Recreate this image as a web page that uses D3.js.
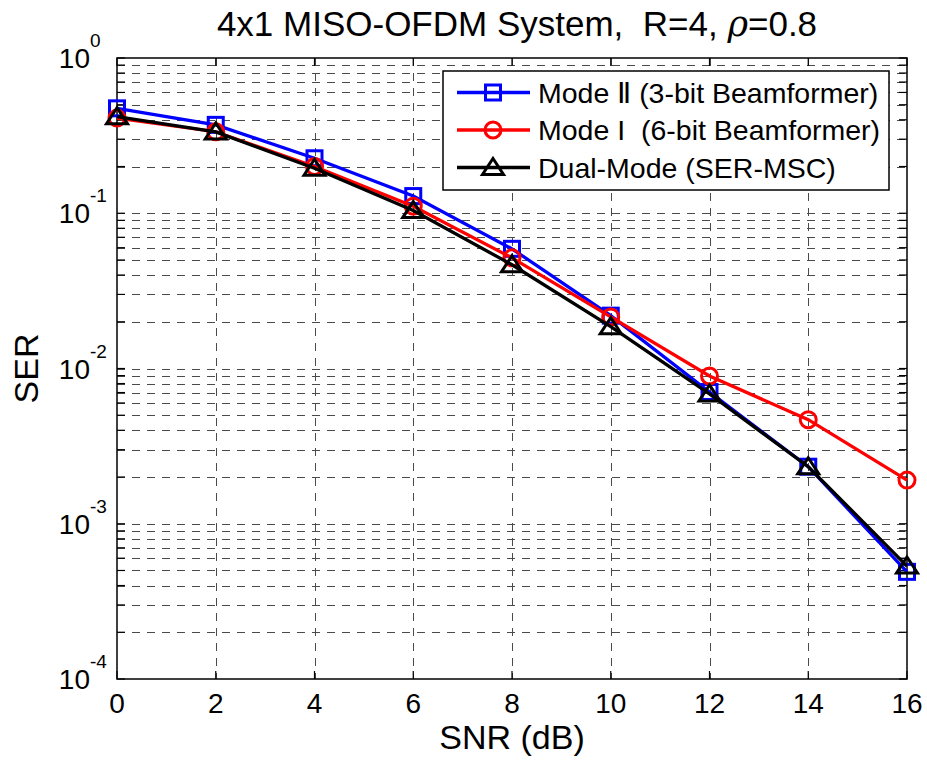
<!DOCTYPE html>
<html>
<head>
<meta charset="utf-8">
<script src="https://cdn.jsdelivr.net/npm/d3@7"></script>
<style>
  body { margin: 0; background: #fff; }
  svg text { font-family: "Liberation Sans", Arial, sans-serif; white-space: pre; }
</style>
</head>
<body>
<svg id="chart" width="927" height="763"></svg>
<script>
// data
const snr = [0, 2, 4, 6, 8, 10, 12, 14, 16];
const serModeII = [0.474, 0.371, 0.226, 0.129, 0.059, 0.0219, 0.00706, 0.00233, 0.00049];
const serModeI = [0.41, 0.335, 0.200, 0.111, 0.0516, 0.0215, 0.00895, 0.00468, 0.00191];
const serDual = [0.419, 0.334, 0.195, 0.104, 0.0466, 0.0186, 0.00686, 0.00233, 0.000534];
const xTicks = [0, 2, 4, 6, 8, 10, 12, 14, 16];
const yDecades = [0, -1, -2, -3, -4];
const legendLabels = ["Mode \u2161 (3-bit Beamformer)", "Mode I  (6-bit Beamformer)", "Dual-Mode (SER-MSC)"];

const margin = {top: 58, right: 20, bottom: 84, left: 117},
      width = 927 - margin.left - margin.right,
      height = 763 - margin.top - margin.bottom;

const svg = d3.select("#chart");
const g = svg.append("g").attr("transform", "translate(" + margin.left + "," + margin.top + ")");

const x = d3.scaleLinear().domain([0, 16]).range([0, width]);
const y = d3.scaleLog().domain([1e-4, 1]).range([height, 0]);

// minor values for log grid
let minorVals = [];
for (let k = -4; k < 0; k++) {
    for (let m = 2; m <= 9; m++) minorVals.push(m * Math.pow(10, k));
}
const majorVals = yDecades.map(function (e) { return Math.pow(10, e); });

// grid
const grid = g.append("g")
    .attr("stroke", "#4a4a4a")
    .attr("stroke-width", 1)
    .attr("stroke-dasharray", "8,7");

majorVals.concat(minorVals).forEach(function (v) {
    if (v === 1 || v === 1e-4) return;
    grid.append("line")
        .attr("x1", 0).attr("x2", width)
        .attr("y1", Math.round(y(v)) + 0.5).attr("y2", Math.round(y(v)) + 0.5);
});
xTicks.forEach(function (t) {
    if (t === 0 || t === 16) return;
    grid.append("line")
        .attr("y1", 0).attr("y2", height)
        .attr("x1", Math.round(x(t)) + 0.5).attr("x2", Math.round(x(t)) + 0.5);
});

// ticks (inside, both sides)
const tickLen = 8;
const ticks = g.append("g").attr("stroke", "#000").attr("stroke-width", 1.2);
majorVals.concat(minorVals).forEach(function (v) {
    let yy = y(v);
    ticks.append("line").attr("x1", 0).attr("x2", tickLen).attr("y1", yy).attr("y2", yy);
    ticks.append("line").attr("x1", width).attr("x2", width - tickLen).attr("y1", yy).attr("y2", yy);
});
xTicks.forEach(function (t) {
    let xx = x(t);
    ticks.append("line").attr("x1", xx).attr("x2", xx).attr("y1", height).attr("y2", height - tickLen);
    ticks.append("line").attr("x1", xx).attr("x2", xx).attr("y1", 0).attr("y2", tickLen);
});

// box
g.append("rect")
    .attr("x", 0).attr("y", 0)
    .attr("width", width).attr("height", height)
    .attr("fill", "none")
    .attr("stroke", "#000")
    .attr("stroke-width", 1.5);

// x tick labels
g.selectAll(".xlab")
    .data(xTicks)
    .enter().append("text")
    .attr("x", function (d) { return x(d); })
    .attr("y", height + 34)
    .attr("text-anchor", "middle")
    .style("font-size", "28px")
    .text(function (d) { return d; });

// y tick labels 10^k
yDecades.forEach(function (e) {
    let yy = y(Math.pow(10, e));
    g.append("text")
        .attr("x", -27)
        .attr("y", yy + 10)
        .attr("text-anchor", "end")
        .style("font-size", "28px")
        .text("10");
    g.append("text")
        .attr("x", -27)
        .attr("y", yy - 11)
        .style("font-size", "19px")
        .text(String(e));
});

// series
const series = [
    {values: serModeII, color: "#0000ff", marker: "square"},
    {values: serModeI, color: "#ff0000", marker: "circle"},
    {values: serDual, color: "#000000", marker: "triangle"}
];

function drawMarker(sel, type, color, cx, cy) {
    if (type === "square") {
        sel.append("rect")
            .attr("x", cx - 7.5).attr("y", cy - 7.5)
            .attr("width", 15).attr("height", 15)
            .attr("fill", "none").attr("stroke", color).attr("stroke-width", 3);
    } else if (type === "circle") {
        sel.append("circle")
            .attr("cx", cx).attr("cy", cy).attr("r", 8)
            .attr("fill", "none").attr("stroke", color).attr("stroke-width", 3);
    } else {
        sel.append("path")
            .attr("d", "M" + cx + "," + (cy - 9) + "L" + (cx + 10.5) + "," + (cy + 7) + "L" + (cx - 10.5) + "," + (cy + 7) + "Z")
            .attr("fill", "none").attr("stroke", color).attr("stroke-width", 3)
            .attr("stroke-linejoin", "miter");
    }
}

const line = d3.line()
    .x(function (d) { return x(d[0]); })
    .y(function (d) { return y(d[1]); });

series.forEach(function (s) {
    let pts = snr.map(function (v, i) { return [v, s.values[i]]; });
    let sg = g.append("g");
    sg.append("path")
        .datum(pts)
        .attr("fill", "none")
        .attr("stroke", s.color)
        .attr("stroke-width", 3.3)
        .attr("d", line);
    pts.forEach(function (p) {
        drawMarker(sg, s.marker, s.color, x(p[0]), y(p[1]));
    });
});

// legend
const legend = svg.append("g").attr("transform", "translate(443,71)");
legend.append("rect")
    .attr("width", 446).attr("height", 119)
    .attr("fill", "#fff")
    .attr("stroke", "#000")
    .attr("stroke-width", 1.5);
series.forEach(function (s, i) {
    let ly = 21.5 + i * 37.5;
    legend.append("line")
        .attr("x1", 14).attr("x2", 87)
        .attr("y1", ly).attr("y2", ly)
        .attr("stroke", s.color).attr("stroke-width", 3.3);
    drawMarker(legend, s.marker, s.color, 50, ly);
    legend.append("text")
        .attr("x", 95)
        .attr("y", ly + 10)
        .style("font-size", "28.5px")
        .text(legendLabels[i]);
});

// title
const title = svg.append("text")
    .attr("x", 517)
    .attr("y", 36)
    .attr("text-anchor", "middle")
    .style("font-size", "35px");
title.append("tspan").text("4x1 MISO-OFDM System,  R=4, ");
title.append("tspan").style("font-style", "italic").style("font-family", "'DejaVu Serif', serif").text("\u03c1");
title.append("tspan").text("=0.8");

// axis labels
svg.append("text")
    .attr("x", margin.left + width / 2)
    .attr("y", 749)
    .attr("text-anchor", "middle")
    .style("font-size", "34px")
    .text("SNR (dB)");

svg.append("text")
    .attr("transform", "translate(38," + (margin.top + height / 2) + ") rotate(-90)")
    .attr("text-anchor", "middle")
    .style("font-size", "34px")
    .text("SER");
</script>
</body>
</html>
